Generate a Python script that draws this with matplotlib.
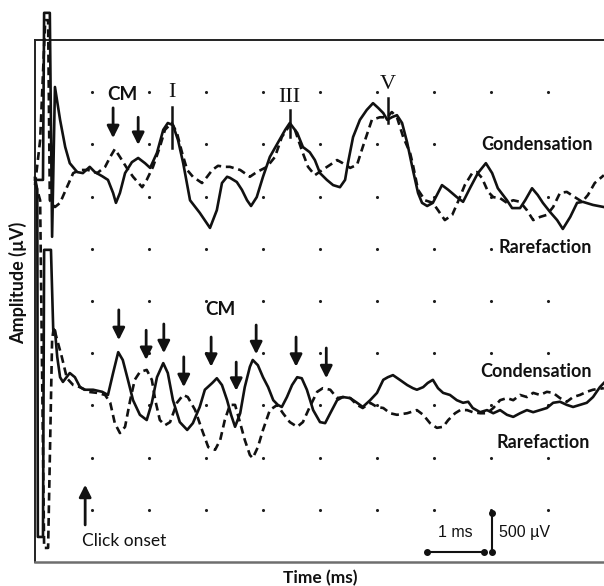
import matplotlib
matplotlib.use("Agg")
import matplotlib.pyplot as plt

# ---------------- data (time in ms, amplitude in grid divisions) ----------------
up_cond_t = [0.00, 0.14, 0.16, 0.26, 0.30, 0.35, 0.44, 0.53, 0.61, 0.74, 0.84, 0.96, 1.05, 1.18, 1.28, 1.37,
             1.42, 1.49, 1.58, 1.70, 1.81, 1.93, 2.02, 2.14, 2.25, 2.33, 2.42, 2.51, 2.60, 2.72, 2.89, 3.07,
             3.19, 3.28, 3.37, 3.42, 3.54, 3.63, 3.72, 3.79, 3.89, 4.00, 4.12, 4.26, 4.39, 4.47, 4.60, 4.70,
             4.82, 4.91, 5.00, 5.12, 5.23, 5.35, 5.44, 5.49, 5.58, 5.70, 5.82, 5.93, 6.02, 6.11, 6.18, 6.26,
             6.35, 6.44, 6.53, 6.63, 6.72, 6.79, 6.88, 6.98, 7.14, 7.25, 7.40, 7.51, 7.63, 7.77, 7.91, 8.02,
             8.12, 8.28, 8.37, 8.51, 8.60, 8.72, 8.82, 8.91, 9.04, 9.16, 9.26, 9.39, 9.51, 9.61, 9.79, 9.98]
up_cond_a = [7.32, 7.32, 10.52, 10.52, 6.23, 9.10, 8.47, 7.95, 7.64, 7.47, 7.45, 7.57, 7.47, 7.39, 7.32, 7.07,
             6.88, 7.07, 7.45, 7.66, 7.74, 7.64, 7.55, 7.84, 8.28, 8.41, 8.37, 8.08, 7.64, 6.93, 6.69, 6.40,
             6.74, 7.26, 7.38, 7.36, 7.28, 7.13, 6.93, 6.82, 6.99, 7.38, 7.76, 8.03, 8.28, 8.41, 8.22, 7.95,
             7.85, 7.70, 7.45, 7.32, 7.22, 7.18, 7.32, 7.64, 8.14, 8.47, 8.66, 8.79, 8.70, 8.60, 8.47, 8.52,
             8.56, 8.41, 8.03, 7.51, 7.07, 6.88, 6.82, 6.88, 7.22, 7.13, 6.99, 6.90, 7.16, 7.45, 7.64, 7.45,
             7.16, 6.93, 6.78, 6.78, 6.93, 7.16, 7.03, 6.88, 6.70, 6.55, 6.38, 6.61, 6.88, 6.90, 6.84, 6.80]

up_rar_t = [0.00, 0.09, 0.18, 0.23, 0.26, 0.35, 0.44, 0.56, 0.67, 0.79, 0.93, 1.09, 1.23, 1.32, 1.40, 1.49,
            1.61, 1.72, 1.88, 1.96, 2.07, 2.19, 2.28, 2.40, 2.49, 2.58, 2.67, 2.77, 2.93, 3.02, 3.11, 3.21,
            3.33, 3.42, 3.60, 3.77, 3.89, 4.07, 4.21, 4.33, 4.47, 4.56, 4.68, 4.79, 4.91, 5.04, 5.18, 5.30,
            5.40, 5.53, 5.65, 5.75, 5.91, 6.05, 6.18, 6.26, 6.35, 6.46, 6.58, 6.63, 6.72, 6.84, 6.98, 7.07,
            7.19, 7.32, 7.42, 7.54, 7.67, 7.75, 7.84, 7.95, 8.04, 8.16, 8.28, 8.39, 8.51, 8.63, 8.74, 8.86,
            8.98, 9.09, 9.21, 9.33, 9.47, 9.60, 9.70, 9.82, 9.98]
up_rar_a = [7.22, 8.08, 10.38, 10.38, 6.93, 6.80, 6.88, 7.18, 7.45, 7.51, 7.51, 7.45, 7.57, 7.76, 7.91, 7.76,
            7.55, 7.38, 7.18, 7.32, 7.57, 7.95, 8.28, 8.41, 8.22, 7.84, 7.51, 7.38, 7.26, 7.38, 7.51, 7.59,
            7.57, 7.57, 7.51, 7.38, 7.47, 7.57, 7.76, 8.14, 8.37, 8.28, 7.89, 7.57, 7.41, 7.51, 7.61, 7.70,
            7.64, 7.55, 7.61, 7.95, 8.47, 8.52, 8.52, 8.62, 8.52, 8.14, 7.84, 7.61, 7.13, 6.93, 6.88, 6.74,
            6.55, 6.65, 6.90, 7.22, 7.45, 7.47, 7.36, 7.09, 6.99, 6.97, 6.88, 6.93, 6.90, 6.74, 6.55, 6.61,
            6.65, 6.80, 7.07, 7.09, 6.99, 6.90, 7.03, 7.26, 7.41]

lo_cond_t = [0.00, 0.04, 0.05, 0.14, 0.16, 0.28, 0.32, 0.35, 0.39, 0.44, 0.49, 0.61, 0.70, 0.79, 0.88, 1.02,
             1.18, 1.28, 1.37, 1.46, 1.54, 1.63, 1.72, 1.84, 1.96, 2.05, 2.14, 2.25, 2.33, 2.42, 2.54, 2.67,
             2.77, 2.89, 2.98, 3.11, 3.19, 3.28, 3.37, 3.44, 3.51, 3.60, 3.68, 3.77, 3.82, 3.91, 4.00, 4.09,
             4.18, 4.26, 4.33, 4.42, 4.51, 4.60, 4.68, 4.77, 4.88, 5.00, 5.09, 5.18, 5.30, 5.40, 5.53, 5.65,
             5.75, 5.88, 6.00, 6.11, 6.19, 6.28, 6.40, 6.53, 6.63, 6.70, 6.81, 6.89, 6.98, 7.07, 7.16, 7.28,
             7.40, 7.51, 7.60, 7.68, 7.81, 7.93, 8.04, 8.16, 8.28, 8.39, 8.51, 8.63, 8.74, 8.86, 8.98, 9.09,
             9.21, 9.33, 9.44, 9.56, 9.68, 9.79, 9.91, 9.98]
lo_cond_a = [7.36, 7.13, 0.48, 0.48, 5.98, 5.98, 4.44, 4.44, 3.93, 3.54, 3.45, 3.62, 3.54, 3.35, 3.30, 3.30,
             3.26, 3.20, 3.62, 4.02, 3.87, 3.49, 3.10, 2.82, 2.72, 3.05, 3.54, 3.81, 3.62, 3.10, 2.68, 2.53,
             2.66, 2.97, 3.30, 3.43, 3.52, 3.39, 3.10, 2.82, 2.59, 2.85, 3.35, 3.74, 3.87, 3.77, 3.54, 3.35,
             3.10, 3.01, 2.97, 3.16, 3.39, 3.54, 3.52, 3.30, 2.91, 2.68, 2.66, 2.85, 3.10, 3.16, 3.14, 3.05,
             2.97, 3.10, 3.24, 3.49, 3.54, 3.58, 3.49, 3.39, 3.33, 3.30, 3.35, 3.43, 3.49, 3.33, 3.24, 3.20,
             3.10, 3.05, 3.07, 2.95, 2.87, 2.91, 2.85, 2.91, 2.82, 2.78, 2.85, 2.91, 2.87, 2.91, 2.95, 3.05,
             3.07, 3.01, 2.97, 3.01, 3.05, 3.16, 3.35, 3.43]

lo_rar_t = [0.00, 0.09, 0.16, 0.23, 0.30, 0.33, 0.39, 0.47, 0.56, 0.67, 0.79, 0.93, 1.09, 1.23, 1.32, 1.40,
            1.49, 1.58, 1.67, 1.75, 1.84, 1.96, 2.05, 2.11, 2.19, 2.28, 2.37, 2.49, 2.60, 2.68, 2.81, 2.93,
            3.04, 3.16, 3.25, 3.33, 3.42, 3.51, 3.60, 3.68, 3.77, 3.82, 3.91, 4.00, 4.12, 4.25, 4.35, 4.47,
            4.60, 4.70, 4.82, 4.95, 5.05, 5.18, 5.30, 5.40, 5.53, 5.65, 5.75, 5.88, 6.00, 6.11, 6.23, 6.35,
            6.53, 6.70, 6.81, 6.93, 7.05, 7.16, 7.25, 7.37, 7.46, 7.58, 7.68, 7.81, 7.93, 8.04, 8.16, 8.28,
            8.39, 8.51, 8.63, 8.74, 8.86, 8.98, 9.09, 9.21, 9.33, 9.44, 9.56, 9.68, 9.79, 9.98]
lo_rar_a = [7.28, 6.93, 0.27, 0.27, 4.25, 4.50, 4.25, 3.93, 3.52, 3.39, 3.35, 3.26, 3.24, 3.20, 3.05, 2.66,
            2.47, 2.59, 3.10, 3.49, 3.64, 3.68, 3.49, 3.10, 2.72, 2.62, 2.68, 3.05, 3.20, 3.16, 2.91, 2.53,
            2.20, 2.15, 2.34, 2.72, 3.01, 3.01, 2.66, 2.34, 2.05, 1.99, 2.20, 2.53, 2.91, 3.01, 2.85, 2.68,
            2.59, 2.68, 2.97, 3.26, 3.33, 3.30, 3.14, 3.16, 3.14, 3.01, 2.95, 3.05, 2.97, 2.95, 2.85, 2.82,
            2.85, 2.91, 2.82, 2.66, 2.57, 2.59, 2.72, 2.85, 2.91, 2.91, 2.87, 2.85, 2.85, 2.95, 3.10, 3.14,
            3.10, 3.20, 3.16, 3.24, 3.20, 3.26, 3.24, 3.14, 3.07, 3.16, 3.20, 3.26, 3.30, 3.33]

# annotations
wave_labels = ["I", "III", "V"]
wave_t = [2.40, 4.47, 6.19]
wave_text_a = [9.00, 8.89, 9.14]
wave_line_top = [8.72, 8.66, 8.89]
wave_line_bot = [7.93, 8.14, 8.41]

cm_up_t = [1.37, 1.81]
cm_up_top = [8.70, 8.52]
cm_up_bot = [8.12, 7.99]

cm_lo_t = [1.47, 1.95, 2.26, 2.61, 3.09, 3.53, 3.88, 4.58, 5.11]
cm_lo_top = [4.83, 4.44, 4.56, 3.93, 4.31, 3.83, 4.54, 4.31, 4.10]
cm_lo_bot = [4.25, 3.87, 4.00, 3.35, 3.74, 3.28, 3.98, 3.74, 3.52]

grid_t = [1, 2, 3, 4, 5, 6, 7, 8, 9]
grid_a = [1, 2, 3, 4, 5, 6, 7, 8, 9]

# ---------------- figure ----------------
W, H = 604, 586
fig = plt.figure(figsize=(W / 100, H / 100), dpi=100)
ax = fig.add_axes([35 / W, 24 / H, 570 / W, 522 / H])
ax.set_xlim(0, 10)
ax.set_ylim(0, 10)
ax.set_xticks([])
ax.set_yticks([])
for s in ["left", "top"]:
    ax.spines[s].set_linewidth(1.4)
    ax.spines[s].set_color("#222222")
ax.spines["bottom"].set_color("#6e6e6e")
ax.spines["bottom"].set_linewidth(1.8)
ax.spines["right"].set_visible(False)

ink = "#111111"
lab_font = "Lato"

# dot grid
gx = [t for t in grid_t for _ in grid_a]
gy = [a for _ in grid_t for a in grid_a]
ax.scatter(gx, gy, s=5, color="#1e1e1e", zorder=1, linewidths=0)

# traces
lw = 1.9
ax.plot(up_cond_t, up_cond_a, color=ink, lw=lw, solid_joinstyle="round", clip_on=False, zorder=3)
ax.plot(up_rar_t, up_rar_a, color=ink, lw=lw, dashes=(3, 1.8), clip_on=False, zorder=3)
ax.plot(lo_cond_t, lo_cond_a, color=ink, lw=lw, solid_joinstyle="round", clip_on=False, zorder=3)
ax.plot(lo_rar_t, lo_rar_a, color=ink, lw=lw, dashes=(3, 1.8), clip_on=False, zorder=3)

# wave labels
for lab, t, ta, l1, l2 in zip(wave_labels, wave_t, wave_text_a, wave_line_top, wave_line_bot):
    ax.text(t, ta, lab, family="Liberation Serif", fontsize=16, ha="center", va="center", color=ink)
    ax.plot([t, t], [l1, l2], color=ink, lw=1.8, zorder=4)

arrow_kw = dict(arrowstyle="-|>,head_length=0.6,head_width=0.3", lw=2.0, color=ink,
                shrinkA=0, shrinkB=0, mutation_scale=12)
ax.text(1.53, 8.95, "CM", family=lab_font, weight="bold", fontsize=13.5, ha="center", va="center", color=ink)
for t, a1, a2 in zip(cm_up_t, cm_up_top, cm_up_bot):
    ax.annotate("", xy=(t, a2), xytext=(t, a1), arrowprops=arrow_kw)

ax.text(3.26, 4.83, "CM", family=lab_font, weight="bold", fontsize=13.5, ha="center", va="center", color=ink)
for t, a1, a2 in zip(cm_lo_t, cm_lo_top, cm_lo_bot):
    ax.annotate("", xy=(t, a2), xytext=(t, a1), arrowprops=arrow_kw)

# trace labels
fs_lab = 13
ax.text(9.79, 7.99, "Condensation", family=lab_font, weight="bold", fontsize=fs_lab, ha="right", va="center", color=ink)
ax.text(9.77, 6.02, "Rarefaction", family=lab_font, weight="bold", fontsize=fs_lab, ha="right", va="center", color=ink)
ax.text(9.77, 3.64, "Condensation", family=lab_font, weight="bold", fontsize=fs_lab, ha="right", va="center", color=ink)
ax.text(9.74, 2.28, "Rarefaction", family=lab_font, weight="bold", fontsize=fs_lab, ha="right", va="center", color=ink)

# click onset
ax.annotate("", xy=(0.88, 1.48), xytext=(0.88, 0.71), arrowprops=arrow_kw)
ax.text(0.82, 0.40, "Click onset", family=lab_font, fontsize=12.5, ha="left", va="center", color=ink)

# scale bars
ax.plot([6.88, 7.88], [0.19, 0.19], color=ink, lw=1.5, marker="o", ms=4)
ax.plot([8.02, 8.02], [0.19, 0.94], color=ink, lw=1.5, marker="o", ms=4)
ax.text(7.37, 0.56, "1 ms", family="Liberation Sans", fontsize=11.5, ha="center", va="center", color=ink)
ax.text(8.14, 0.56, "500 \u00b5V", family="Liberation Sans", fontsize=11.5, ha="left", va="center", color=ink)

ax.set_xlabel("Time (ms)", family=lab_font, weight="bold", fontsize=12.5, labelpad=6, color=ink)
ax.set_ylabel("Amplitude (\u00b5V)", family=lab_font, weight="bold", fontsize=13, labelpad=4, color=ink)
ax.yaxis.set_label_coords(-0.013, 0.535)

fig.savefig("out.png", dpi=100)
